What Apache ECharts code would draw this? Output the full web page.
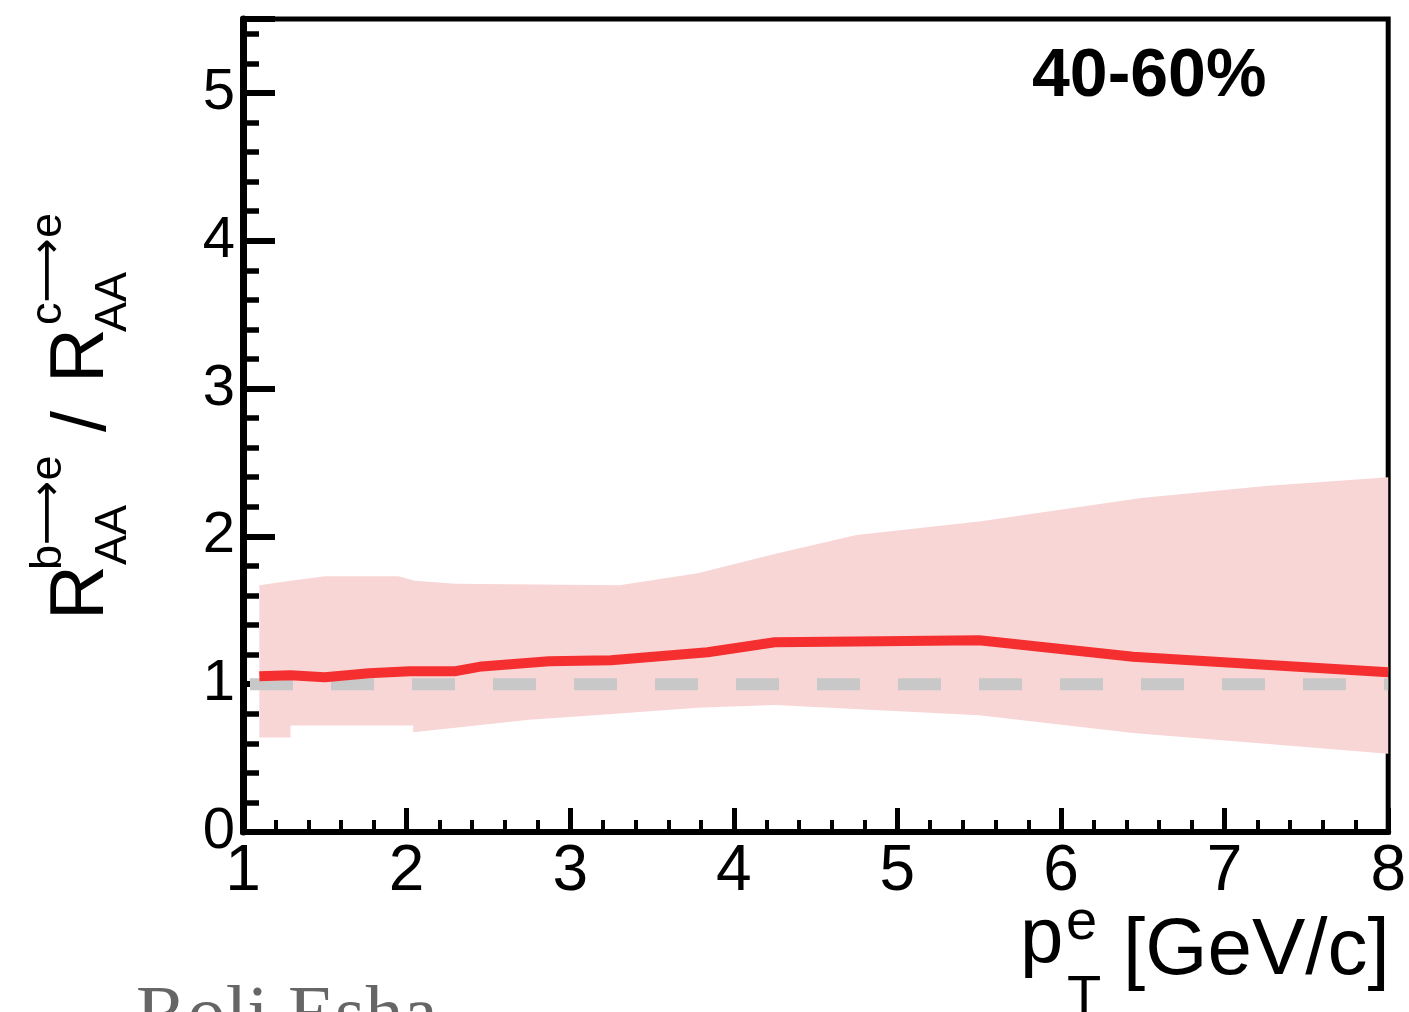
<!DOCTYPE html>
<html>
<head>
<meta charset="utf-8">
<script src="https://cdn.jsdelivr.net/npm/echarts@6/dist/echarts.min.js"></script>
<style>
  html, body { margin: 0; padding: 0; background: #fff; }
  #chart { width: 1409px; height: 1012px; }
</style>
</head>
<body>
<div id="chart"></div>
<script>
// Ratio R_AA(b->e) / R_AA(c->e), 40-60% centrality
const lineX = [1.1, 1.29, 1.5, 1.77, 2.02, 2.3, 2.46, 2.87, 3.25, 3.84, 4.25, 4.9, 5.5, 6.44, 8.0];
const lineY = [1.054, 1.061, 1.047, 1.074, 1.088, 1.088, 1.12, 1.155, 1.162, 1.216, 1.284, 1.29, 1.297, 1.185, 1.081];

// Uncertainty band, upper and lower edges
const upperX = [1.1, 1.29, 1.5, 1.95, 2.05, 2.3, 3.3, 3.78, 4.25, 4.75, 5.5, 6.49, 7.25, 8.0];
const upperY = [1.67, 1.70, 1.73, 1.73, 1.70, 1.68, 1.67, 1.75, 1.88, 2.01, 2.10, 2.26, 2.34, 2.40];
const lowerX = [1.1, 1.29, 1.29, 2.04, 2.04, 2.34, 2.75, 3.15, 3.78, 4.25, 5.5, 6.44, 8.0];
const lowerY = [0.64, 0.64, 0.72, 0.72, 0.675, 0.71, 0.76, 0.79, 0.84, 0.86, 0.79, 0.67, 0.53];

// Reference ratio of unity
const unityX = [1, 8];
const unityY = [1, 1];

const xTicks = [1, 2, 3, 4, 5, 6, 7, 8];
const yTicks = [0, 1, 2, 3, 4, 5];

const SANS = '"Liberation Sans", Arial, Helvetica, "DejaVu Sans", sans-serif';

const chart = echarts.init(document.getElementById('chart'), null, { renderer: 'canvas' });

const tickFont = (size) => ({ fontSize: size, fontFamily: SANS, color: '#000' });

function txt(text, x, y, size, extra) {
  return {
    type: 'text', x: x, y: y,
    style: Object.assign({
      text: text,
      font: size + 'px ' + SANS,
      fill: '#000',
      textAlign: 'left',
      textVerticalAlign: 'middle'
    }, extra || {})
  };
}

chart.setOption({
  animation: false,
  backgroundColor: '#fff',
  grid: {
    left: 243, right: 16, top: 19, bottom: 180,
    show: true, borderColor: '#000', borderWidth: 5, backgroundColor: 'transparent'
  },
  xAxis: {
    type: 'value', min: xTicks[0], max: xTicks[xTicks.length - 1], interval: 1,
    axisLine: { show: true, onZero: false, lineStyle: { color: '#000', width: 6 } },
    axisTick: { show: true, inside: true, length: 24, lineStyle: { color: '#000', width: 5 } },
    minorTick: { show: true, splitNumber: 5, length: 12, lineStyle: { color: '#000', width: 4 } },
    splitLine: { show: false },
    axisLabel: Object.assign({ margin: 8 }, tickFont(64))
  },
  yAxis: [
    {
      type: 'value', min: 0, max: 5.5, interval: 1, position: 'left',
      axisLine: { show: true, onZero: false, lineStyle: { color: '#000', width: 7 } },
      axisTick: { show: true, inside: true, length: 32, lineStyle: { color: '#000', width: 6 } },
      splitLine: { show: false },
      axisLabel: Object.assign({
        margin: 8,
        formatter: (v) => (yTicks.indexOf(v) >= 0 ? String(v) : '')
      }, tickFont(58))
    },
    {
      type: 'value', min: 0, max: 5.5, interval: 0.2, position: 'left', offset: 0,
      axisLine: { show: false },
      axisTick: { show: true, inside: true, length: 16, lineStyle: { color: '#000', width: 5.5 } },
      splitLine: { show: false },
      axisLabel: { show: false }
    }
  ],
  series: [
    {
      // shaded uncertainty band
      type: 'custom',
      xAxisIndex: 0, yAxisIndex: 0,
      clip: true,
      z: 1,
      data: [[upperX[0], upperY[0]]],
      renderItem: function (params, api) {
        const pts = [];
        for (let i = 0; i < upperX.length; i++) pts.push(api.coord([upperX[i], upperY[i]]));
        for (let i = lowerX.length - 1; i >= 0; i--) pts.push(api.coord([lowerX[i], lowerY[i]]));
        return {
          type: 'polygon',
          shape: { points: pts },
          style: { fill: '#f8d6d6', stroke: null }
        };
      }
    },
    {
      // dashed unity line
      type: 'line',
      xAxisIndex: 0, yAxisIndex: 0,
      z: 2,
      data: unityX.map((x, i) => [x, unityY[i]]),
      symbol: 'none',
      lineStyle: { color: '#c8c8c8', width: 12, type: [43, 38], dashOffset: 74 }
    },
    {
      // central ratio curve
      type: 'line',
      xAxisIndex: 0, yAxisIndex: 0,
      z: 3,
      data: lineX.map((x, i) => [x, lineY[i]]),
      symbol: 'none',
      lineStyle: { color: '#f52f2f', width: 10, join: 'round' }
    }
  ],
  graphic: [
    // y-axis title, rotated to read bottom-to-top
    {
      type: 'group', x: 0, y: 622, rotation: Math.PI / 2,
      children: [
        txt('R', 2, 82, 76),
        txt('AA', 57, 114, 45),
        txt('b\u27F6e', 52, 49, 45),
        txt('/', 190, 84, 76),
        txt('R', 239, 82, 76),
        txt('AA', 290, 114, 45),
        txt('c\u27F6e', 297, 49, 45)
      ]
    },
    // x-axis title
    txt('p', 1020, 940, 78),
    txt('e', 1066, 924, 56),
    txt('T', 1067, 999, 56),
    txt('[GeV/c]', 1123, 952, 80),
    // centrality label
    txt('40-60%', 1032, 77, 68, { font: 'bold 68px ' + SANS }),
    // author credit
    txt('Roli Esha', 136, 1018, 77, { font: '77px "Liberation Serif", "Times New Roman", serif', fill: '#666666' })
  ]
});
</script>
</body>
</html>
